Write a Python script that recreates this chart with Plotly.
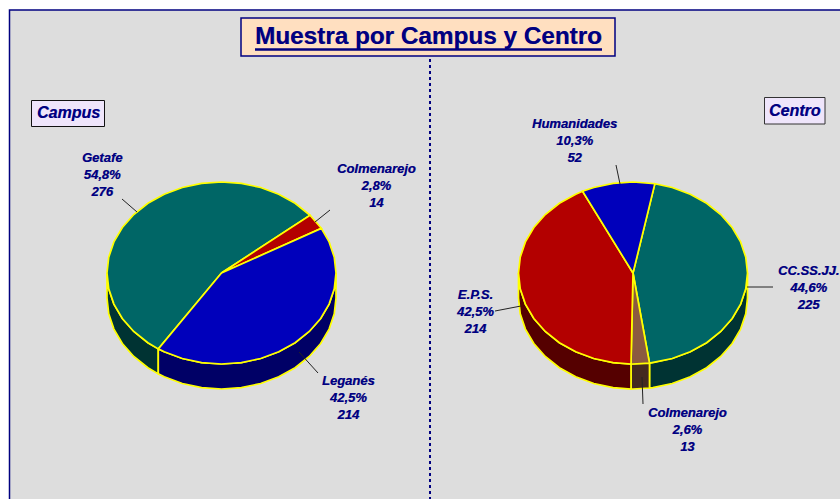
"""Muestra por Campus y Centro - two tilted pies drawn as filled scatter polygons."""

import math

import plotly.graph_objects as go

NAVY = "#000080"
YELLOW = "#FFFF00"
FONT = "Liberation Sans, Arial, sans-serif"
SHADOW = "0.4px 0.4px 0.6px rgba(0,0,128,0.6)"

CAMPUS_NAMES = ["Getafe", "Colmenarejo", "Leganés"]
CAMPUS_VALUES = [276, 14, 214]
CAMPUS_TOP = ["#006666", "#B30000", "#0000BB"]
CAMPUS_SIDE = ["#003333", "#550000", "#000066"]

CENTRO_NAMES = ["CC.SS.JJ.", "Colmenarejo", "E.P.S.", "Humanidades"]
CENTRO_VALUES = [225, 13, 214, 52]
CENTRO_TOP = ["#006666", "#8B5A40", "#B30000", "#0000BB"]
CENTRO_SIDE = ["#003333", "#442A20", "#550000", "#000066"]

# label centre (x, y) and leader line end points, in page pixels
CAMPUS_LABEL_POS = [(102, 174), (376, 185), (348, 397)]
CAMPUS_LEADERS = [((122, 199), (137, 212)), ((330, 210), (315, 222)), ((318, 373), (299, 352))]
CENTRO_LABEL_POS = [(808, 287), (687, 429), (475, 311), (574, 140)]
CENTRO_LEADERS = [
    ((747, 287), (773, 287)),
    ((642, 377), (643, 404)),
    ((495, 311), (521, 306)),
    ((616, 165), (620, 184)),
]

RX, RY, DEPTH = 114.5, 91, 25
STEP = 10


def arc(cx, cy, a, b):
    """Points along the ellipse, angles clockwise from the top, in degrees."""
    angles = [a]
    t = (math.floor(a / STEP) + 1) * STEP
    while t < b:
        angles.append(t)
        t += STEP
    angles.append(b)
    xs = [cx + RX * math.sin(math.radians(t)) for t in angles]
    ys = [cy - RY * math.cos(math.radians(t)) for t in angles]
    return xs, ys


def polygon(fig, xs, ys, color):
    fig.add_trace(
        go.Scatter(
            x=xs, y=ys, mode="lines", fill="toself", fillcolor=color,
            line=dict(color=YELLOW, width=1.7), hoverinfo="skip", showlegend=False,
        )
    )


def draw_pie(fig, cx, cy, start, names, values, tops, sides, label_pos, leaders):
    total = sum(values)
    spans = []
    a = start
    for v in values:
        b = a + v / total * 360
        spans.append((a, b))
        a = b

    # outer wall, only the part facing the viewer
    for (a, b), side in zip(spans, sides):
        for lo, hi in ((90, 270), (450, 630)):
            s, e = max(a, lo), min(b, hi)
            if s < e:
                xs, ys = arc(cx, cy, s, e)
                polygon(fig, xs + xs[::-1] + [xs[0]], ys + [y + DEPTH for y in ys[::-1]] + [ys[0]], side)

    for (a, b), top in zip(spans, tops):
        xs, ys = arc(cx, cy, a, b)
        polygon(fig, [cx] + xs + [cx], [cy] + ys + [cy], top)

    for (p0, p1) in leaders:
        fig.add_shape(type="line", x0=p0[0], y0=p0[1], x1=p1[0], y1=p1[1], line=dict(color="#222222", width=1))

    for name, v, (x, y) in zip(names, values, label_pos):
        pct = f"{v / total * 100:.1f}".replace(".", ",")
        fig.add_annotation(
            x=x, y=y, text=f"{name}<br>{pct}%<br>{v}", showarrow=False,
            font=dict(family=FONT, size=13, color=NAVY, weight="bold", style="italic", shadow=SHADOW),
            align="center", xanchor="center", yanchor="middle",
        )


fig = go.Figure()

draw_pie(fig, 221.5, 273, 213.5, CAMPUS_NAMES, CAMPUS_VALUES, CAMPUS_TOP, CAMPUS_SIDE, CAMPUS_LABEL_POS, CAMPUS_LEADERS)
draw_pie(fig, 633, 273, 11, CENTRO_NAMES, CENTRO_VALUES, CENTRO_TOP, CENTRO_SIDE, CENTRO_LABEL_POS, CENTRO_LEADERS)

# panel, divider and header boxes
fig.add_shape(type="rect", x0=9.5, y0=10, x1=860, y1=520, fillcolor="#DDDDDD", line=dict(color=NAVY, width=1.5), layer="below")
fig.add_shape(type="line", x0=430, y0=53, x1=430, y1=499, line=dict(color=NAVY, width=2, dash="dot"), layer="below")
fig.add_shape(type="rect", x0=241, y0=18, x1=615, y1=56, fillcolor="#FFDFC0", line=dict(color=NAVY, width=1.5), layer="below")
fig.add_shape(type="line", x0=255, y0=49.5, x1=602, y1=49.5, line=dict(color=NAVY, width=2.5))
fig.add_shape(type="rect", x0=31.5, y0=100.5, x1=104.5, y1=126.5, fillcolor="#EFE5FB", line=dict(color="#111111", width=1), layer="below")
fig.add_shape(type="rect", x0=764.5, y0=97.5, x1=825, y1=124, fillcolor="#EFE5FB", line=dict(color="#333333", width=1), layer="below")

fig.add_annotation(
    x=428, y=35, text="Muestra por Campus y Centro", showarrow=False,
    font=dict(family=FONT, size=24.3, color=NAVY, weight="bold", shadow=SHADOW),
)
fig.add_annotation(
    x=68, y=112, text="Campus", showarrow=False,
    font=dict(family=FONT, size=16, color=NAVY, weight="bold", style="italic", shadow=SHADOW),
)
fig.add_annotation(
    x=795, y=110, text="Centro", showarrow=False,
    font=dict(family=FONT, size=16, color=NAVY, weight="bold", style="italic", shadow=SHADOW),
)

fig.update_layout(
    width=840, height=499,
    margin=dict(l=0, r=0, t=0, b=0),
    paper_bgcolor="#FFFFFF", plot_bgcolor="#FFFFFF",
    xaxis=dict(range=[0, 840], visible=False, fixedrange=True),
    yaxis=dict(range=[499, 0], visible=False, fixedrange=True),
    showlegend=False,
)

fig.write_html(
    "out.html",
    config=dict(displayModeBar=False),
    post_script="document.body.style.margin='0';document.body.style.overflow='hidden';",
)
